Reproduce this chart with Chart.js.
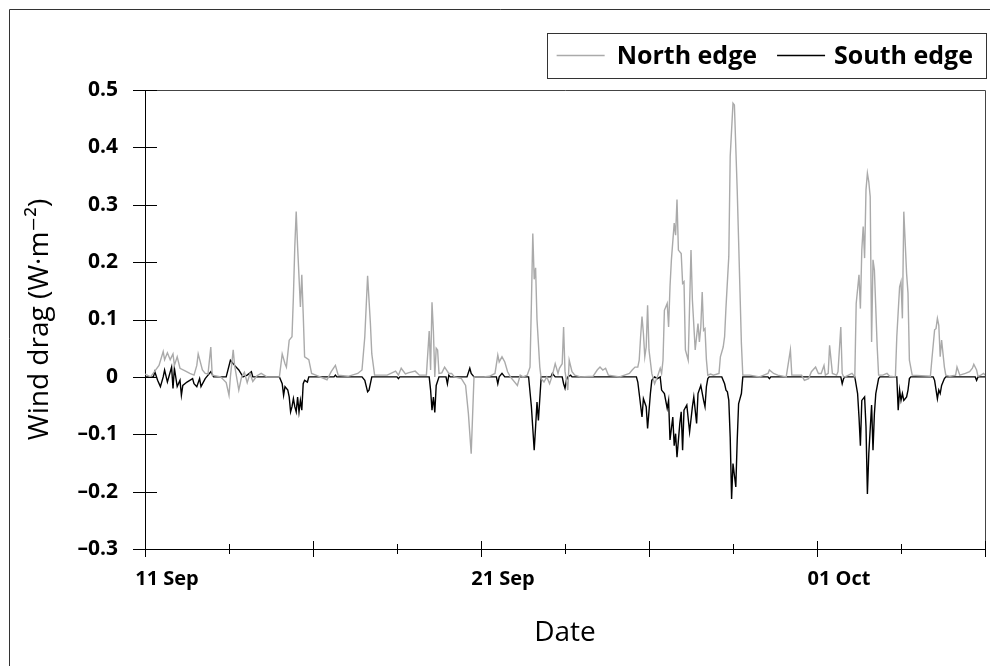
<!DOCTYPE html>
<html>
<head>
<meta charset="utf-8">
<script src="https://cdn.jsdelivr.net/npm/chart.js"></script>
<style>
  html, body { margin: 0; padding: 0; background: #fff; }
  #wrap { width: 990px; height: 666px; position: relative; }
</style>
</head>
<body>
<div id="wrap"><canvas id="dragChart"></canvas></div>
<script>
// hours since 11 Sep 00:00, wind drag in W m-2
const northHours = [0, 4, 7, 10, 13, 14, 16, 18, 20, 21, 23, 25, 29, 32, 35, 37, 38, 41, 43, 45, 47, 48, 54, 58, 60, 61, 63, 64, 67, 69, 71, 73, 75, 77, 80, 83, 87,
    96, 98, 100, 101, 103, 105, 106, 107, 108, 109, 111, 112, 113, 114, 117, 119, 122, 130, 133, 136, 138, 145, 152, 155, 157, 159, 161, 162, 164, 173, 179, 181, 183, 186, 188, 193, 196,
    201, 203, 204, 205, 206, 207, 208, 209, 210, 212, 214, 217, 219, 221, 226, 229, 231, 233, 235, 242, 246, 250, 252, 253, 255, 257, 259, 261, 266, 268, 270, 273, 275, 276, 277, 278, 279, 280, 282, 283, 285, 287, 289, 291, 293, 295, 296, 298, 299,
    300, 302, 303, 305, 307, 311, 320, 323, 325, 327, 329, 331, 339, 346, 348, 350, 352, 353, 354, 355, 356, 357, 358, 359, 360, 362, 364, 366, 368, 369, 370, 371, 373, 374, 375, 376, 378, 379, 380, 381, 383, 384, 385, 386, 388, 390, 391, 393, 395, 396, 397, 398, 399,
    400, 401, 402, 404, 406, 410, 411, 413, 414, 415, 417, 418, 420, 421, 423, 424, 425, 426, 427, 432, 439, 445, 446, 449, 452, 458, 461, 462, 465, 469, 471, 474, 476, 479, 481, 483, 485, 486, 488, 489, 491, 494, 495, 497, 498, 499,
    500, 505, 507, 508, 510, 511, 512, 513, 514, 515, 516, 517, 518, 519, 520, 521, 523, 524, 527, 530, 532, 536, 537, 539, 540, 541, 542, 544, 545, 546, 548, 561, 562, 564, 565, 566, 567, 568, 569, 571, 572, 575, 579, 580, 582, 586, 589, 591, 592, 594, 595, 597, 599, 600];
const northDrag = [0.005, 0.0, 0.01, 0.02, 0.044, 0.03, 0.042, 0.03, 0.04, 0.02, 0.035, 0.015, 0.01, 0.006, 0.003, 0.02, 0.04, 0.012, 0.006, 0.005, 0.052, 0.003, 0.0, -0.01, -0.032, 0.0, 0.047, 0.02, -0.023, 0.0, 0.008, -0.01, 0.006, -0.008, 0.002, 0.006, 0.0,
    0.0, 0.04, 0.023, 0.017, 0.064, 0.07, 0.14, 0.227, 0.288, 0.227, 0.122, 0.178, 0.11, 0.035, 0.03, 0.006, 0.003, -0.005, 0.009, 0.02, 0.003, 0.001, 0.006, 0.012, 0.07, 0.176, 0.093, 0.04, 0.003, 0.003, 0.01, 0.003, 0.015, 0.005, 0.007, 0.01, 0.003,
    0.003, 0.08, 0.012, 0.13, 0.08, 0.0, 0.05, 0.047, 0.006, 0.007, 0.017, 0.006, 0.006, 0.0, -0.003, -0.015, -0.064, -0.134, 0.0, 0.0, 0.001, 0.006, 0.038, 0.026, 0.035, 0.026, 0.009, 0.0, -0.015, 0.003, 0.0, 0.003, 0.017, 0.128, 0.25, 0.17, 0.19, 0.1, 0.017, -0.003, -0.009, 0.0, -0.012, 0.003, 0.023, 0.006, 0.015, 0.023, 0.087,
    0.01, -0.023, 0.029, 0.009, 0.003, 0.0, 0.001, 0.012, 0.017, 0.012, 0.015, 0.003, 0.0, 0.006, 0.012, 0.017, 0.017, 0.029, 0.07, 0.105, 0.076, 0.035, 0.052, 0.125, 0.047, 0.006, -0.012, 0.0, 0.015, 0.006, 0.029, 0.116, 0.128, 0.087, 0.157, 0.204, 0.268, 0.247, 0.309, 0.221, 0.215, 0.163, 0.166, 0.047, 0.029, 0.221, 0.134, 0.047, 0.093, 0.061, 0.087, 0.148, 0.081,
    0.084, 0.03, 0.003, 0.005, 0.003, 0.006, 0.035, 0.052, 0.07, 0.122, 0.21, 0.384, 0.477, 0.474, 0.326, 0.238, 0.148, 0.058, 0.003, 0.003, 0.0, 0.006, 0.012, 0.006, 0.003, 0.0, 0.047, 0.003, 0.003, 0.003, -0.006, -0.003, 0.009, 0.017, 0.006, 0.006, 0.02, 0.003, 0.006, 0.055, 0.006, 0.003, 0.009, 0.087, 0.006, 0.0,
    0.0, 0.006, 0.0, 0.128, 0.178, 0.119, 0.221, 0.262, 0.207, 0.326, 0.355, 0.34, 0.314, 0.061, 0.204, 0.186, 0.052, 0.003, 0.003, 0.006, 0.001, 0.0, 0.07, 0.157, 0.166, 0.102, 0.288, 0.18, 0.146, 0.029, 0.003, 0.001, 0.029, 0.082, 0.084, 0.102, 0.09, 0.035, 0.064, 0.017, 0.003, 0.001, 0.003, 0.017, 0.003, 0.006, 0.009, 0.015, 0.022, 0.012, 0.001, 0.003, 0.006, 0.003];

const southHours = [0, 6, 7, 9, 11, 13, 14, 16, 19, 20, 21, 23, 25, 26, 27, 30, 32, 34, 35, 37, 39, 40, 43, 44, 47, 49, 58, 61, 64, 67, 70, 73, 76, 77,
    96, 98, 99, 100, 102, 103, 104, 105, 106, 107, 108, 109, 110, 111, 112, 113, 114, 116, 117, 135, 136, 137, 155, 157, 159, 160, 162, 180, 181, 182,
    203, 204, 205, 206, 207, 208, 210, 215, 216, 217, 218, 230, 232, 233, 235, 251, 252, 253, 255, 257, 274, 276, 278, 279, 280, 281, 283, 290, 291, 293, 298, 299,
    300, 301, 302, 304, 305, 351, 352, 353, 355, 356, 358, 359, 361, 362, 364, 366, 368, 369, 371, 373, 374, 375, 377, 378, 379, 380, 382, 383, 384, 385, 387, 389, 391, 392, 394, 395, 397, 399,
    400, 401, 402, 403, 412, 414, 415, 416, 417, 418, 419, 420, 422, 423, 424, 425, 426, 427, 445, 446, 447, 497, 498, 499,
    500, 507, 509, 510, 511, 512, 514, 515, 516, 517, 519, 520, 521, 522, 524, 525, 537, 538, 539, 540, 541, 542, 544, 545, 546, 547, 563, 564, 566, 567, 568, 569, 571, 572, 593, 594, 595, 600];
const southDrag = [0.0, 0.0, 0.009, -0.006, -0.017, 0.0, 0.012, -0.009, 0.017, -0.02, 0.015, -0.017, -0.006, -0.032, -0.015, -0.009, -0.006, -0.003, -0.012, -0.017, -0.003, -0.017, -0.003, 0.0, 0.009, 0.0, 0.0, 0.029, 0.02, 0.012, 0.0, 0.003, 0.009, 0.0,
    0.0, -0.012, -0.032, -0.017, -0.023, -0.035, -0.061, -0.052, -0.038, -0.052, -0.061, -0.035, -0.061, -0.041, -0.058, -0.012, -0.006, -0.009, 0.0, 0.0, 0.003, 0.0, 0.0, -0.006, -0.026, -0.023, 0.0, 0.0, -0.003, 0.0,
    0.0, -0.023, -0.058, -0.035, -0.062, -0.015, 0.0, 0.0, -0.012, 0.003, 0.0, 0.0, 0.015, 0.006, 0.0, 0.0, -0.012, 0.0, 0.006, 0.0, 0.0, -0.052, -0.128, -0.087, -0.044, -0.076, 0.0, 0.0, 0.006, 0.0, 0.0, -0.012,
    -0.02, -0.006, 0.0, 0.003, 0.0, 0.0, -0.009, -0.029, -0.07, -0.038, -0.052, -0.09, -0.029, -0.006, 0.0, -0.003, 0.0, -0.023, -0.029, -0.055, -0.041, -0.11, -0.07, -0.12, -0.099, -0.14, -0.081, -0.061, -0.128, -0.058, -0.049, -0.096, -0.052, -0.035, -0.081, -0.029, -0.015, -0.041,
    -0.052, -0.017, -0.003, 0.0, 0.0, -0.012, -0.023, -0.026, -0.041, -0.105, -0.213, -0.151, -0.192, -0.111, -0.047, -0.038, -0.029, 0.0, 0.0, -0.003, 0.0, 0.0, -0.012, -0.003,
    0.0, 0.0, -0.029, -0.07, -0.12, -0.041, -0.035, -0.087, -0.204, -0.134, -0.049, -0.128, -0.064, -0.029, -0.003, 0.0, 0.0, -0.058, -0.023, -0.041, -0.029, -0.041, -0.035, -0.023, -0.003, 0.0, 0.0, -0.006, -0.038, -0.023, -0.029, -0.015, -0.003, 0.0, 0.0, -0.006, 0.0, 0.0];

const seriesNames = ['North edge', 'South edge'];
const seriesColors = ['#aaaaaa', '#000000'];
const dateLabels = { 0: '11 Sep', 240: '21 Sep', 480: '01 Oct' };

const toPoints = (hours, values) => hours.map((h, i) => ({ x: h, y: values[i] }));

const FONT = '"Open Sans", "DejaVu Sans", sans-serif';

// frame, box edges, crossing tick marks and the boxed legend
const decorations = {
    id: 'decorations',
    afterDraw(chart) {
        const { ctx, chartArea: area, scales: { x, y } } = chart;
        ctx.save();
        ctx.lineWidth = 1;

        // outer frame (runs off the right and bottom edges)
        ctx.strokeStyle = '#333';
        ctx.beginPath();
        ctx.moveTo(9.5, chart.height + 5);
        ctx.lineTo(9.5, 9.5);
        ctx.lineTo(chart.width + 5, 9.5);
        ctx.stroke();

        // top and right edges of the plot box
        ctx.strokeStyle = '#444';
        ctx.beginPath();
        ctx.moveTo(area.left, area.top + 0.5);
        ctx.lineTo(area.right + 0.5, area.top + 0.5);
        ctx.lineTo(area.right + 0.5, area.bottom);
        ctx.stroke();

        // tick marks crossing both axes
        ctx.strokeStyle = '#000';
        ctx.beginPath();
        y.ticks.forEach(t => {
            const py = Math.round(y.getPixelForValue(t.value)) + 0.5;
            ctx.moveTo(area.left - 12, py);
            ctx.lineTo(area.left + 12, py);
        });
        x.ticks.forEach(t => {
            const px = Math.round(x.getPixelForValue(t.value)) + 0.5;
            const half = t.value % 120 === 0 ? 8 : 5;
            ctx.moveTo(px, area.bottom - half);
            ctx.lineTo(px, area.bottom + half);
        });
        ctx.stroke();

        // legend, right-aligned above the plot
        ctx.font = 'bold 25px ' + FONT;
        ctx.textBaseline = 'middle';
        ctx.textAlign = 'left';
        const sampleLen = 48;
        const boxRight = area.right + 1;
        const boxTop = area.top - 57;
        const boxBottom = area.top - 12;
        const cy = (boxTop + boxBottom) / 2;
        const wN = ctx.measureText(seriesNames[0]).width;
        const wS = ctx.measureText(seriesNames[1]).width;
        const sText = boxRight - 13 - wS;
        const sLine = sText - 9 - sampleLen;
        const nText = sLine - 20 - wN;
        const nLine = nText - 12 - sampleLen;
        const boxLeft = nLine - 10;

        ctx.strokeStyle = '#333';
        ctx.strokeRect(Math.round(boxLeft) + 0.5, boxTop + 0.5, boxRight - Math.round(boxLeft), boxBottom - boxTop);

        [[nLine, nText, 0], [sLine, sText, 1]].forEach(([lx, tx, i]) => {
            ctx.strokeStyle = seriesColors[i];
            ctx.lineWidth = 1.5;
            ctx.beginPath();
            ctx.moveTo(lx, cy);
            ctx.lineTo(lx + sampleLen, cy);
            ctx.stroke();
            ctx.fillStyle = '#000';
            ctx.fillText(seriesNames[i], tx, cy + 1);
        });
        ctx.restore();
    }
};

new Chart(document.getElementById('dragChart'), {
    type: 'line',
    data: {
        datasets: [
            {
                label: seriesNames[0],
                data: toPoints(northHours, northDrag),
                borderColor: seriesColors[0],
                borderWidth: 1.4,
                pointRadius: 0,
                tension: 0
            },
            {
                label: seriesNames[1],
                data: toPoints(southHours, southDrag),
                borderColor: seriesColors[1],
                borderWidth: 1.4,
                pointRadius: 0,
                tension: 0
            }
        ]
    },
    options: {
        responsive: true,
        maintainAspectRatio: false,
        animation: false,
        layout: { padding: { top: 90, right: 5, bottom: 0, left: 0 } },
        plugins: {
            legend: { display: false },
            tooltip: { enabled: false }
        },
        scales: {
            x: {
                type: 'linear',
                min: 0,
                max: 600,
                afterFit: scale => {
                    scale.height = 117;
                    scale.paddingLeft = 0;
                    scale.paddingRight = 0;
                },
                grid: { drawOnChartArea: false, drawTicks: false },
                border: { color: '#000', width: 1 },
                ticks: {
                    stepSize: 60,
                    autoSkip: false,
                    maxRotation: 0,
                    padding: 18,
                    labelOffset: 22,
                    color: '#000',
                    font: { family: FONT, size: 20, weight: 'bold' },
                    callback: v => dateLabels[v] || ''
                },
                title: {
                    display: true,
                    text: 'Date',
                    color: '#000',
                    font: { family: FONT, size: 28 },
                    padding: { top: 0, bottom: 16 }
                }
            },
            y: {
                min: -0.3,
                max: 0.5,
                afterFit: scale => { scale.width = 145; },
                grid: { drawOnChartArea: false, drawTicks: false },
                border: { color: '#000', width: 1 },
                ticks: {
                    stepSize: 0.1,
                    padding: 27,
                    color: '#000',
                    font: { family: FONT, size: 21, weight: 'bold' },
                    callback: v => {
                        const r = Math.round(v * 10) / 10;
                        if (r === 0) return '0';
                        return (r < 0 ? '\u2013' : '') + Math.abs(r).toFixed(1);
                    }
                },
                title: {
                    display: true,
                    text: 'Wind drag (W\u00b7m\u207b\u00b2)',
                    color: '#000',
                    font: { family: FONT, size: 28 },
                    padding: { top: 23, bottom: 0 }
                }
            }
        }
    },
    plugins: [decorations]
});
</script>
</body>
</html>
